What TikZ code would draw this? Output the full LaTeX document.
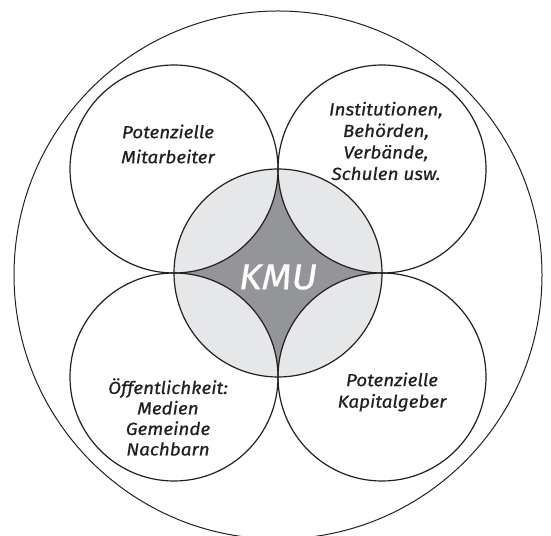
\documentclass[tikz,border=0pt]{standalone}
\usepackage{fontspec}
\setmainfont{Fira Sans}
\newfontfamily\labelfont{Fira Sans}[FakeStretch=1.08, FakeBold=0.6]
\usetikzlibrary{calc}
\definecolor{ink}{HTML}{231F20}
\definecolor{lensgray}{HTML}{E6E7E8}
\definecolor{coregray}{HTML}{939598}
\begin{document}
\begin{tikzpicture}[x=1pt,y=1pt,
  ring/.style={draw=ink, line width=1.2pt},
  grouplabel/.style={text=ink, align=center, inner sep=0pt,
    font=\labelfont\itshape\fontsize{17.5}{21.5}\selectfont},
  corelabel/.style={text=white, inner sep=0pt,
    font=\labelfont\itshape\fontsize{36}{38}\selectfont}]
\useasboundingbox (0,0) rectangle (551,535);
\def\rad{104}
% centre of the core circle and of the four surrounding circles
\coordinate (core) at (278,262);
\coordinate (nw) at ($(core)+(-\rad,\rad)$);
\coordinate (ne) at ($(core)+(\rad,\rad)$);
\coordinate (sw) at ($(core)+(-\rad,-\rad)$);
\coordinate (se) at ($(core)+(\rad,-\rad)$);
\coordinate (outer) at (278,260);

% core disc and the four-pointed star between the circles
\fill[lensgray] (core) circle[radius=\rad];
\fill[coregray] ($(core)+(0,\rad)$)
  arc[start angle=0, end angle=-90, radius=\rad]
  arc[start angle=90, end angle=0, radius=\rad]
  arc[start angle=180, end angle=90, radius=\rad]
  arc[start angle=270, end angle=180, radius=\rad] -- cycle;

% enclosing circle, cut off by the lower page edge
\begin{scope}
  \clip (0,0) rectangle (551,535);
  \draw[ring, line width=1pt] (outer) circle[radius=264];
\end{scope}

% the four stakeholder circles and the core circle
\foreach \c in {nw,ne,sw,se}
  \draw[ring] (\c) circle[radius=\rad];
\draw[ring] (core) circle[radius=\rad];

\node[corelabel] (kmu) at (278,258) {KMU};
\node[grouplabel, font=\labelfont\itshape\fontsize{17.5}{25}\selectfont]
  (mitarbeiter) at (168,391) {Potenzielle\\Mitarbeiter};
\node[grouplabel] (institutionen) at (386,394) {Institutionen,\\Behörden,\\Verbände,\\Schulen usw.};
\node[grouplabel, font=\labelfont\itshape\fontsize{17.5}{20.5}\selectfont]
  (oeffentlichkeit) at (168,118) {Öffentlichkeit:\\Medien\\Gemeinde\\Nachbarn};
\node[grouplabel] (kapitalgeber) at (392,143) {Potenzielle\\Kapitalgeber};
\end{tikzpicture}
\end{document}
